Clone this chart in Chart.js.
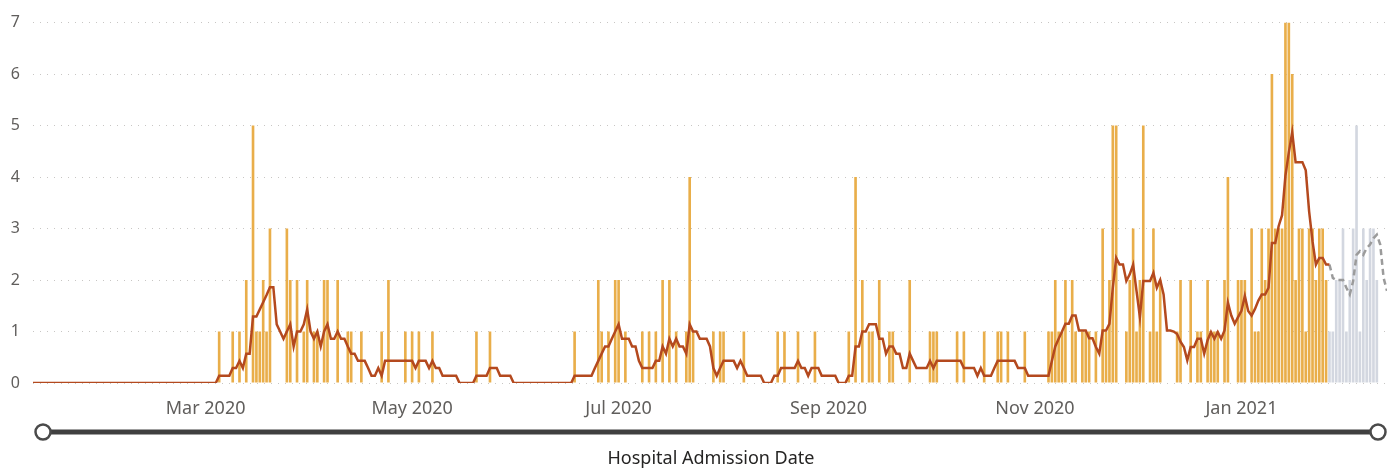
<!DOCTYPE html>
<html><head><meta charset="utf-8">
<script src="https://cdn.jsdelivr.net/npm/chart.js@4/dist/chart.umd.min.js"></script>
<style>html,body{margin:0;padding:0;background:#fff;overflow:hidden}#wrap{width:1387px;height:470px}</style>
</head><body><div id="wrap"><canvas id="c" width="1387" height="470"></canvas></div>
<script>
// ---- data ----
const startDate = '2020-01-10';
const dayCount = 401;
const tickDates = ['2020-03-01','2020-05-01','2020-07-01','2020-09-01','2020-11-01','2021-01-01'];
const tickLabels = ['Mar 2020','May 2020','Jul 2020','Sep 2020','Nov 2020','Jan 2021'];
const yTicks = [0,1,2,3,4,5,6,7];

// day offsets (from startDate) with admissions, and counts
const admitDays = [55,59,61,63,65,66,67,68,69,70,75,76,78,80,81,
  83,84,86,87,90,93,94,97,103,105,110,112,114,118,131,135,
  160,167,168,170,172,173,175,180,182,184,186,188,190,193,194,195,201,203,204,
  210,220,222,226,231,241,243,245,247,248,250,253,254,259,265,266,267,273,
  275,281,285,286,288,293,300,301,302,303,304,
  305,307,308,310,311,312,314,316,317,318,319,320,323,324,325,326,327,328,330,331,332,333,
  338,339,342,344,345,347,348,349,350,352,353,356,357,358,360,361,362,363,364,365,366,367,368,
  369,370,371,372,373,374,375,376,377,378,379,380,381,382];
const admitCounts = [1,1,1,2,5,1,1,2,1,3,3,2,2,1,2,
  1,1,2,2,2,1,1,1,1,2,1,1,1,1,1,1,
  1,2,1,1,2,2,1,1,1,1,2,2,1,1,4,1,1,1,1,
  1,1,1,1,1,1,4,2,1,1,2,1,1,2,1,1,1,1,
  1,1,1,1,1,1,1,1,2,1,1,
  2,2,1,1,1,1,1,3,1,2,5,5,1,2,3,1,2,5,1,3,1,2,
  1,2,2,1,1,2,1,1,1,2,4,2,2,2,3,1,1,3,2,3,6,3,3,
  3,7,7,6,2,3,3,1,3,3,2,3,3,2];

// provisional (incomplete) period
const provisionalStart = 383;
const provisionalCounts = [1,1,2,2,3,1,2,3,5,1,3,2,3,3,2];

// 7-day average (day 0 .. 383)
const avgValues = [
0,0,0,0,0,0,0,0,0,0, 0,0,0,0,0,0,0,0,0,0, 0,0,0,0,0,0,0,0,0,0, 0,0,0,0,0,0,0,0,0,0, 0,0,0,0,0,0,0,0,0,0,
0,0,0,0,0,.14,.14,.14,.14,.29,
.29,.43,.29,.57,.57,1.29,1.29,1.43,1.57,1.71,
1.86,1.86,1.14,1,.86,1,1.14,.71,1,1,
1.14,1.43,1,.86,1,.71,1,1.14,.86,.86,
1,.86,.86,.71,.57,.57,.43,.43,.43,.29,
.14,.14,.29,.14,.43,.43,.43,.43,.43,.43,
.43,.43,.43,.29,.43,.43,.43,.29,.43,.29,
.29,.14,.14,.14,.14,.14,0,0,0,0,
0,.14,.14,.14,.14,.29,.29,.29,.14,.14,
.14,.14,0,0,0,0,0,0,0,0,
0,0,0,0,0,0,0,0,0,0,
.14,.14,.14,.14,.14,.14,.29,.43,.57,.71,
.71,.86,1,1.14,.86,.86,.86,.71,.71,.43,
.29,.29,.29,.29,.43,.43,.71,.57,.86,.71,
.86,.71,.71,.57,1.14,1,1,.86,.86,.86,
.71,.29,.14,.29,.43,.43,.43,.43,.29,.43,
.29,.14,.14,.14,.14,.14,0,0,0,.14,
.14,.29,.29,.29,.29,.29,.43,.29,.29,.14,
.29,.29,.29,.14,.14,.14,.14,.14,0,0,
0,.14,.14,.71,.71,1,1,1.14,1.14,1.14,
.86,.86,.57,.71,.71,.57,.57,.29,.29,.57,
.43,.29,.29,.29,.29,.43,.29,.43,.43,.43,
.43,.43,.43,.43,.43,.29,.29,.29,.29,.14,
.29,.14,.14,.14,.29,.43,.43,.43,.43,.43,
.43,.29,.29,.29,.14,.14,.14,.14,.14,.14,
.14,.43,.71,.86,1,1.15,1.15,1.31,1.31,1.02,
1.02,1.02,.87,.87,.7,.57,1.02,1.02,1.15,1.85,
2.43,2.3,2.3,1.98,2.11,2.3,1.79,1.28,1.98,1.98,
1.98,2.14,1.85,2,1.72,1.02,1.02,1,.95,.8,
.7,.44,.7,.7,.86,.86,.57,.83,.99,.86,
.99,.86,1.02,1.56,1.31,1.15,1.28,1.4,1.69,1.4,
1.31,1.44,1.6,1.72,1.72,1.85,2.72,2.72,3.05,3.26,
4.03,4.48,4.87,4.29,4.29,4.29,4.13,3.33,2.75,2.3,
2.43,2.43,2.3,2.3];
// provisional 7-day average (day 383 .. 400)
const provisionalAvg = [2.3,2.04,2,2,2,1.85,1.72,1.98,2.49,2.56,2.49,2.62,2.69,2.81,2.88,2.69,2.04,1.79];

// ---- build ----
const labels = [];
const d0 = new Date(startDate + 'T00:00:00Z');
for (let i = 0; i < dayCount; i++) {
  const d = new Date(d0.getTime() + i * 86400000);
  labels.push(d.toISOString().slice(0, 10));
}
const tickMap = {};
tickDates.forEach((t, i) => { tickMap[labels.indexOf(t)] = tickLabels[i]; });

const barData = labels.map(() => null);
admitDays.forEach((d, i) => { barData[d] = admitCounts[i]; });
const provBarData = labels.map(() => null);
provisionalCounts.forEach((v, i) => { provBarData[provisionalStart + i] = v; });
const avgData = labels.map((_, i) => i < avgValues.length ? avgValues[i] : null);
const provAvgData = labels.map((_, i) => i >= provisionalStart && i - provisionalStart < provisionalAvg.length ? provisionalAvg[i - provisionalStart] : null);

const FONT = "'Noto Sans', 'Open Sans', sans-serif";

const bottomDecor = {
  id: 'bottomDecor',
  afterDraw(chart) {
    const ctx = chart.ctx;
    ctx.save();
    ctx.lineCap = 'butt';
    ctx.strokeStyle = '#404040';
    ctx.lineWidth = 5;
    ctx.beginPath(); ctx.moveTo(43, 432); ctx.lineTo(1378, 432); ctx.stroke();
    [43, 1378].forEach(x => {
      ctx.beginPath(); ctx.arc(x, 432, 7.5, 0, Math.PI * 2);
      ctx.fillStyle = '#ffffff'; ctx.fill();
      ctx.lineWidth = 2.5; ctx.strokeStyle = '#4a4a4a'; ctx.stroke();
    });
    ctx.fillStyle = '#252423';
    ctx.font = "18px " + FONT;
    ctx.textAlign = 'center'; ctx.textBaseline = 'middle';
    ctx.fillText('Hospital Admission Date', 711, 459);
    ctx.restore();
  }
};

new Chart(document.getElementById('c'), {
  type: 'bar',
  data: {
    labels,
    datasets: [
      { type: 'line', data: avgData, borderColor: '#B4491E', borderWidth: 2.5, pointRadius: 0, tension: 0, order: 0, spanGaps: false },
      { type: 'line', data: provAvgData, borderColor: '#9B9B9B', borderWidth: 2.5, borderDash: [6, 4], pointRadius: 0, tension: 0, order: 0 },
      { type: 'bar', data: barData, backgroundColor: '#E9AE4A', barPercentage: 0.78, categoryPercentage: 1, grouped: false, order: 1 },
      { type: 'bar', data: provBarData, backgroundColor: '#D3D7E0', barPercentage: 0.78, categoryPercentage: 1, grouped: false, order: 1 }
    ]
  },
  options: {
    responsive: false,
    animation: false,
    devicePixelRatio: 1,
    layout: { padding: { top: 19, right: 0, left: 0, bottom: 0 } },
    plugins: { legend: { display: false }, tooltip: { enabled: false } },
    scales: {
      x: {
        type: 'category',
        offset: false,
        grid: { display: false },
        border: { display: false },
        ticks: {
          autoSkip: false, maxRotation: 0, minRotation: 0, padding: 7,
          color: '#605E5C', font: { family: FONT, size: 18 },
          callback: (v, i) => (tickMap[i] !== undefined ? tickMap[i] : null)
        },
        afterFit: s => { s.height = 87; }
      },
      y: {
        min: 0, max: 7,
        afterBuildTicks: s => { s.ticks = yTicks.map(v => ({ value: v })); },
        grid: { color: '#C8C6C4', lineWidth: 1, drawTicks: false },
        border: { display: false, dash: [1, 6] },
        ticks: { padding: 13, color: '#605E5C', font: { family: FONT, size: 16 } },
        afterFit: s => { s.width = 33; }
      }
    }
  },
  plugins: [bottomDecor]
});
</script>
</body></html>
